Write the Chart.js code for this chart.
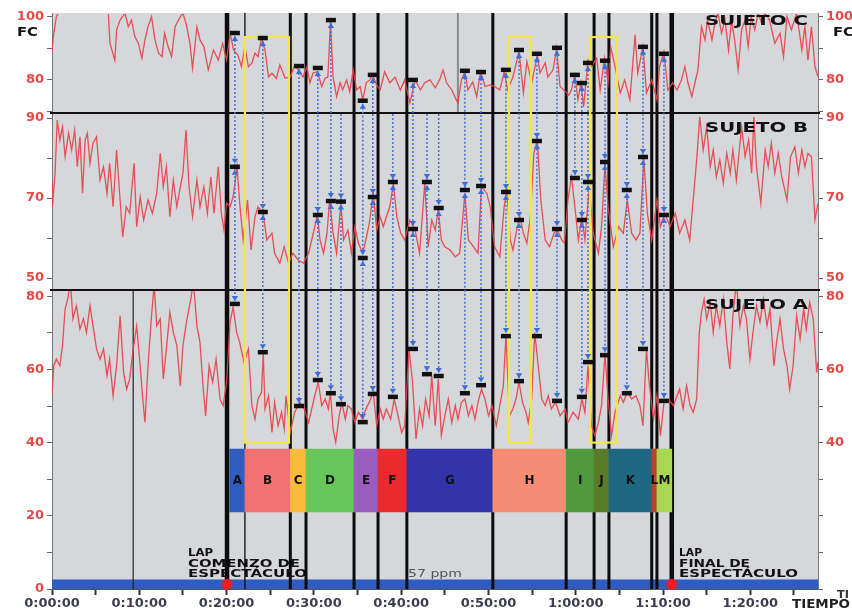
<!DOCTYPE html>
<html><head><meta charset="utf-8">
<script src="https://cdn.jsdelivr.net/npm/chart.js@4.4.1/dist/chart.umd.min.js"></script>
<style>html,body{margin:0;padding:0;background:#fff}#w{position:relative;width:852px;height:610px}</style>
</head><body><div id="w"><canvas id="c"></canvas></div>
<script>
// ---------- DATA (time in minutes, heart rate in bpm) ----------
const timeC = [0,0.15,0.5,0.9,2,3.5,5,6,6.45,6.64,7.2,7.4,7.8,8.36,8.74,9.1,9.5,9.9,10.3,10.65,11,11.4,11.8,12.2,12.6,12.9,13.3,13.7,14.1,14.7,15,15.4,15.8,16.1,16.6,16.95,17.4,17.9,18.5,19.05,19.55,20,20.4,20.8,21.3,21.7,22.1,22.5,22.9,23.25,23.6,24,24.4,24.8,25.2,25.7,26.1,26.7,27.3,27.8,28.2,28.75,29.2,29.55,29.9,30.4,30.9,31.3,31.6,31.9,32.2,32.6,33,33.3,33.75,34.1,34.5,34.9,35.3,35.6,36,36.4,36.7,37.2,37.6,38.1,38.7,39.3,39.9,40.4,41,41.6,42.2,42.7,43.3,43.9,44.4,44.8,45.2,45.8,46.2,46.5,46.9,47.3,47.65,48.2,48.65,49.1,49.6,50.2,50.7,51.3,51.8,52.2,52.8,53.5,54,54.4,54.95,55.6,55.9,56.5,56.8,57.4,57.8,58.2,58.8,59.2,59.5,59.9,60.25,60.6,60.9,61.4,61.8,62.4,62.8,63.3,63.7,64,64.5,65.1,65.6,66.2,66.8,67.1,67.7,68.1,68.7,69.3,69.6,70.1,70.55,71.1,71.6,72.1,72.5,72.85,73.3,73.65,74,74.4,74.8,75.1,75.6,75.95,76.3,76.7,77.1,77.5,77.85,78.2,78.6,79,79.4,79.75,80.1,80.5,80.9,81.3,81.7,82.2,82.8,83.4,83.8,84.2,84.7,85.3,85.9,86.25,86.6,87,87.4,87.75];
const hrC = [89,93.7,100.1,102.2,104,103,104,103,101.2,91.6,86.3,95.9,99,101.2,96.9,99,93.7,91.6,86.9,92.7,96.9,100.1,92.7,88.5,87.4,94.8,90.6,87.4,96.9,100.1,101.2,97.5,91.6,83.7,96.9,92.7,90.6,83.2,89.5,86.3,91.6,86.3,94.8,89.5,87.9,84.2,90.6,84.2,85.3,88.5,87.4,93.2,89.5,81,82.1,80.5,84.8,80.6,80.9,84.8,83.2,80.9,84.2,79.1,82.2,82.6,77.9,80.6,80.9,98.5,80.9,74.7,79.1,76.8,80,76.3,83.2,76.8,77.9,73.7,79.1,80,81.6,78.4,76.8,82.6,79.1,80.9,76.8,80,72.7,80,76.8,79.1,80,77.5,80,83.2,79.1,76.8,74.3,72.7,80,82.6,76.8,79.4,74.7,82.6,77.9,78.4,77.9,76.8,82.6,76.8,80.9,89,75.9,85.8,79.1,87.9,82.2,85.4,80.9,83.2,90.1,77.9,76.3,75.2,76.8,81.6,73.7,79.1,71.4,86.3,84.2,86.9,76.8,86.9,79.1,90.6,84.2,75.9,80,73.7,94.3,82.2,90.6,75.9,80,73.7,84.2,89,76.8,79.1,76.8,80,84.2,79.1,74.7,79.1,83.2,96.9,92.7,99,92.7,98.1,101.2,94.8,99,89.5,99,92.7,83.2,95.9,99,90.6,100.1,95.9,101.2,98,101.2,99,91.6,94.8,87.4,100.1,95.9,101.2,89.5,96.9,86.3,96.9,84.2,81];

const timeB = [0,0.05,0.35,0.6,0.9,1.2,1.5,1.9,2.25,2.6,2.9,3.2,3.5,3.8,4.05,4.35,4.7,5.1,5.5,5.9,6.3,6.6,7,7.4,7.8,8.1,8.5,8.9,9.4,9.7,10.1,10.5,11,11.5,12,12.4,12.75,13.1,13.5,13.9,14.3,14.7,15,15.35,15.7,16.1,16.6,16.95,17.4,17.8,18.2,18.55,19.05,19.4,19.7,20,20.4,20.75,21.2,21.5,21.9,22.4,22.8,23.25,23.6,24.2,24.6,25.2,25.5,26.1,26.6,27.1,27.6,28.2,28.8,29.4,29.75,30.1,30.4,30.7,31.1,31.5,31.8,32.2,32.6,33.1,33.4,33.9,34.3,34.7,35.1,35.6,35.95,36.35,36.8,37.2,37.6,37.95,38.3,38.7,39.1,39.5,39.95,40.4,41,41.6,42.1,42.45,42.7,43.1,43.5,43.9,44.25,44.6,45,45.6,46.2,46.7,47.3,47.7,48.3,48.8,49.2,49.8,50.2,50.7,51.3,51.8,52.1,52.5,52.8,53.3,53.6,54,54.4,54.8,55.2,55.6,56,56.5,57,57.5,57.9,58.4,58.7,59.1,59.5,59.9,60.3,60.7,61.05,61.55,62,62.6,62.95,63.35,63.7,64.3,64.9,65.45,65.9,66.4,66.9,67.35,67.8,68.2,68.7,69.3,69.7,70.2,70.8,71.4,71.9,72.5,73.05,73.45,73.85,74.2,74.6,75,75.4,75.75,76.1,76.5,76.9,77.3,77.7,78,78.4,79,79.4,79.8,80.15,80.4,80.7,81.2,81.7,82.05,82.4,82.8,83.2,83.6,84.2,84.6,85.1,85.5,85.9,86.25,86.6,87,87.4,87.75];
const hrB = [73.7,67.8,76.2,89.5,84.5,87.8,80.3,86.2,82,87,77.8,85.3,71.2,84.5,86.2,78.7,83.7,85.3,74.5,77.8,71.2,78.7,67.8,82,69.5,60.3,67.8,66.2,78.7,62.8,70.3,64.5,69.5,66.2,71.2,81.2,72.8,77.8,65.3,74.5,67.8,72.8,76.2,87,72.8,65.3,74.5,67.8,72.8,66.2,75.3,66.2,77.8,66.2,62,68.7,67.8,70.3,77.8,68.7,59.5,69.5,57,65.3,67.8,66.2,59.5,61.2,56.2,53.7,57.8,53.7,56.2,54.5,53.7,56.2,59.5,62.8,66,59.5,56.2,61.2,69.5,61.2,56.2,68.7,59.5,62,56.2,62.8,58.7,56.2,59.5,63.7,71.2,62,65.3,62.8,65.3,67.8,73.7,65.3,61.2,59.5,64.5,62,56.2,66.2,73.7,57.8,64.5,62,67,59.5,57.8,57,55.3,56.2,71.2,59.5,57.8,56.2,72.8,71.2,67.8,57.8,55.3,67.8,72,59.5,57,62.8,65.3,61.2,58.7,65.3,81.2,84.5,69.5,59.5,57.8,61.2,62,59.5,58.7,69.5,75.3,67.8,59.5,65.3,59.5,72.8,61.2,56.2,62.8,78.7,67.8,57.8,62.8,61.2,69.5,61.2,59.5,61.2,79.8,66.2,59.5,69.5,62.8,66.2,62.8,66.2,61.2,64.5,59.5,69.5,79.5,90.3,82,87.8,77.8,82,75.3,79.5,73.7,81.2,76.2,82,74.5,87.8,80.3,84.5,76.2,90.3,77.8,68.7,82,77.8,83.7,76.2,81.2,75.3,69.5,80.3,82.8,76.2,82,77.8,81.2,80.3,64.5,68.7];

const timeA = [0,0.2,0.5,0.9,1.2,1.5,1.8,2.1,2.4,2.8,3.2,3.6,3.95,4.35,4.7,5.1,5.5,5.9,6.3,6.6,7,7.4,7.8,8.2,8.55,8.9,9.3,9.7,10.1,10.4,10.65,11,11.4,11.7,12,12.4,12.75,13.1,13.5,13.9,14.3,14.7,15,15.4,15.9,16.2,16.6,16.95,17.3,17.6,18,18.4,18.8,19.25,19.6,20,20.4,20.75,21.15,21.5,22,22.5,22.9,23.25,23.6,24,24.2,24.4,24.8,25.2,25.5,25.9,26.3,26.6,26.8,27.3,27.8,28.4,28.9,29.4,29.75,30.1,30.5,30.9,31.3,31.65,31.9,32.2,32.5,32.9,33.2,33.6,33.9,34.3,34.7,35.1,35.6,35.95,36.35,36.8,37.2,37.6,37.95,38.3,38.8,39.2,39.55,40.05,40.4,40.9,41.3,41.7,42.1,42.45,42.8,43.2,43.5,43.9,44.25,44.6,45,45.4,45.8,46.2,46.5,46.9,47.3,47.7,48.1,48.45,48.8,49.2,49.6,50,50.4,50.9,51.3,51.7,52,52.4,52.8,53.15,53.5,53.9,54.3,54.55,54.95,55.3,55.7,56.1,56.5,56.85,57.2,57.7,58.2,58.8,59.1,59.7,60.3,60.7,61.05,61.4,61.8,62.2,62.6,62.95,63.35,63.7,64.1,64.5,65.1,65.45,65.9,66.4,66.9,67.35,67.7,68.1,68.4,68.9,69.3,69.7,70.1,70.6,71.2,71.6,71.9,72.3,72.7,73.1,73.45,73.85,74.15,74.4,74.7,75,75.4,75.75,76.1,76.5,76.9,77.3,77.65,78,78.4,78.8,79.2,79.55,79.95,80.3,80.7,81.1,81.5,81.9,82.25,82.7,83,83.4,83.8,84.2,84.5,84.9,85.3,85.7,86.1,86.4,86.8,87.2,87.6,87.75];
const hrA = [52.8,61,62.8,61,66.5,76.5,79.2,84,73.8,77.4,71,73.8,70.1,77.4,71.9,65.6,62.8,65.6,58.3,62.8,52.8,61,74.7,59.2,54.6,57.4,65.6,71.9,61,51.9,45.5,61,74.7,83,71.9,73.8,57.4,65.6,75.6,70.1,66.5,55.5,66.5,72.9,79.2,84,71.9,67.4,55.5,47.3,61,56.5,62.8,51.9,50.1,56.5,72.9,77,70.1,67.4,61.9,65.6,50.1,46.4,51.9,53.7,64.5,49.2,52.8,42.8,51,44.6,48.3,43.7,52.8,42.8,48.3,51,49.2,45.5,49.2,52.8,56.5,50.1,51.9,49.2,53.7,43.7,40.1,47.3,51,46.4,50.1,49.2,45.5,48.3,46.4,49.2,51,53.7,44.6,49.2,46.4,49.2,46.4,51.9,48.3,42.8,44.6,65.6,56.5,41,49.2,44.6,51.9,47.3,58.3,44.6,57.4,41.9,47.3,51.9,45.5,50.1,46.4,51,51.9,47.3,50.1,46.4,51,54.6,51.9,47.3,50.1,44.6,50.1,55.5,69.2,47.3,49.2,51.9,56.5,51,48.3,45.5,51.9,70.1,61,51.9,50.1,52.8,49.2,51,47.3,49.2,45.5,48.3,46.4,51.9,48.3,61,44.6,41.9,45.5,50.1,64.2,51.9,41.9,48.3,52.8,51,53.7,51.9,52.8,50.1,44.6,65.6,56.5,46.4,52.8,41.9,51,51.9,50.1,52.8,54.6,49.2,55.5,50.1,48.3,51.9,70.1,75.6,79.2,73.8,78.3,70.1,77.4,71.9,79.2,67.4,60.1,74.7,84,71.9,77.4,73.8,62.8,70.1,77.4,72.9,79.2,71.9,76.5,61,67.4,73.8,65.6,61,54.6,61,74.7,68.3,76.5,71,78.3,73.8,59.2,62];

// peaks marked on each subject (null = no mark)
const peakTime = [20.95,24.15,28.3,30.45,31.95,33.1,35.6,36.75,39.05,41.35,42.95,44.3,47.3,49.15,52,53.5,55.55,57.85,59.9,60.7,61.4,63.35,65.85,67.7,70.1];
const peakC = [94.9,93.3,84.4,83.8,99,null,73.4,81.6,null,80,null,null,82.9,82.5,83.2,89.5,88.3,90.2,81.6,79,85.4,86.1,null,90.5,88.3];
const peakB = [77.8,66.5,null,65.75,69.25,69.1,55,70.25,74,62.25,74,67.5,72,73,71.5,64.5,84.25,62.25,75,64.5,74,79,72,80.25,65.75];
const peakA = [77.9,64.7,50,57.1,53.5,50.5,45.6,53.3,52.5,65.6,58.7,58.2,53.5,55.7,69.1,56.8,69.1,51.4,null,52.5,62,63.9,53.5,65.6,51.4];

// show segments
const segLabels = ['A','B','C','D','E','F','G','H','I','J','K','L','M'];
const segStart  = [20.35,22.1,27.3,29.1,34.6,37.35,40.65,50.5,58.9,62.1,63.8,68.7,69.3];
const segEnd    = [22.1,27.3,29.1,34.6,37.35,40.65,50.5,58.9,62.1,63.8,68.7,69.3,71.0];
const segColors = ['#2f5cbf','#f07272','#f8bb3c','#66c65a','#9a5cbf','#ea2a2c','#3434aa','#f58c74','#4f9a3c','#5b7b2a','#1f6883','#b8432c','#a9d752'];

// laps
const lapTimes = [20.05, 71.0];
const lapOnlyA = [9.3];
const lapOnlyC = [46.5];

// highlighted windows
const focusStart = [22.1, 52.35, 61.65];
const focusEnd   = [27.15, 54.87, 64.72];

// ticks
const ticksC = [70,80,90,100], labelsC = [80,100];
const ticksB = [50,60,70,80,90], labelsB = [50,70,90];
const ticksA = [0,10,20,30,40,50,60,70,80], labelsA = [0,20,40,60,80], labelsARight = [40,60,80];
const xTickLabels = ['0:00:00','0:10:00','0:20:00','0:30:00','0:40:00','0:50:00','1:00:00','1:10:00','1:20:00'];

// ---------- CHART ----------
const FONT = "'DejaVu Sans', sans-serif";
const RED = '#e5484a';
const xy = (t, v) => t.map((x, i) => ({x, y: v[i]}));
const marks = vals => peakTime.map((t, i) => vals[i] == null ? null : {x: t, y: vals[i]}).filter(Boolean);

function yAxis(pos, stackWeight, weight, min, max, ticks, labels) {
  return {
    type: 'linear', position: pos, stack: pos, stackWeight, weight, min, max, offset: false,
    afterFit(s) { s.width = pos === 'left' ? 52 : 34; },
    afterBuildTicks(s) { s.ticks = ticks.map(v => ({value: v})); },
    grid: {drawOnChartArea: false, drawTicks: true, tickLength: 5, tickColor: '#666', offset: false},
    border: {display: true, color: '#777', width: 1},
    ticks: {autoSkip: false, padding: 3, color: RED, font: {family: FONT, size: 13, weight: 'bold'},
      callback: v => labels.includes(v) ? String(v) : ''}
  };
}

const lineDS = (t, v, axis) => ({type: 'line', data: xy(t, v), yAxisID: axis, panel: axis,
  borderColor: 'rgba(232,66,74,0.92)', borderWidth: 1.3, pointRadius: 0, tension: 0, order: 3, clip: false});
const markDS = (vals, axis) => ({type: 'line', data: marks(vals), yAxisID: axis, showLine: false,
  pointStyle: 'line', pointRadius: 5, pointBorderWidth: 4.5, pointBorderColor: '#111', pointBackgroundColor: '#111', order: 0, clip: false});

function wide(ctx, txt, x, y, font, color, width, align) {
  ctx.save();
  ctx.font = font;
  const w = ctx.measureText(txt).width;
  const sx = width ? width / w : 1;
  ctx.translate(x, y); ctx.scale(sx, 1);
  ctx.fillStyle = color; ctx.textBaseline = 'middle'; ctx.textAlign = align || 'left';
  ctx.fillText(txt, 0, 0);
  ctx.restore();
}

const deco = {
  id: 'deco',
  beforeDraw(chart) {
    const {ctx, chartArea: a} = chart;
    ctx.save();
    ctx.fillStyle = '#fff'; ctx.fillRect(0, 0, chart.width, chart.height);
    ctx.fillStyle = '#d5d7db'; ctx.fillRect(a.left, a.top, a.right - a.left, a.bottom - a.top);
    ctx.restore();
  },
  beforeDatasetsDraw(chart) {
    const {ctx, chartArea: a, scales: s} = chart;
    const X = v => s.x.getPixelForValue(v);
    ctx.save();
    // lap track
    ctx.fillStyle = '#2e5cc0';
    const yt = s.yA.getPixelForValue(2.6);
    ctx.fillRect(a.left, yt, a.right - a.left, a.bottom - yt);
    // lap texts
    const bf = `bold 10px ${FONT}`;
    wide(ctx, 'LAP', 188, 553, bf, '#111', 25);
    wide(ctx, 'COMENZO DE', 188, 564, bf, '#111', 112);
    wide(ctx, 'ESPECTÁCULO', 188, 574, bf, '#111', 119);
    wide(ctx, 'LAP', 679, 553, bf, '#111', 23);
    wide(ctx, 'FINAL DE', 679, 564, bf, '#111', 71);
    wide(ctx, 'ESPECTÁCULO', 679, 574, bf, '#111', 119);
    wide(ctx, '57 ppm', 408, 574, `11px ${FONT}`, '#555', 54);
    // partial laps
    ctx.strokeStyle = '#222'; ctx.lineWidth = 1.2;
    lapOnlyA.forEach(t => { ctx.beginPath(); ctx.moveTo(X(t), s.yA.top); ctx.lineTo(X(t), a.bottom); ctx.stroke(); });
    ctx.strokeStyle = '#8a8a8a'; ctx.lineWidth = 2;
    lapOnlyC.forEach(t => { ctx.beginPath(); ctx.moveTo(X(t), s.yC.top); ctx.lineTo(X(t), s.yC.bottom); ctx.stroke(); });
    // segment boundaries
    ctx.strokeStyle = '#0c0c0c';
    segStart.slice(1).forEach((t, i) => {
      ctx.lineWidth = i === 0 ? 1.3 : 3;
      ctx.beginPath(); ctx.moveTo(X(t), a.top); ctx.lineTo(X(t), a.bottom); ctx.stroke();
    });
    ctx.lineWidth = 4.5;
    lapTimes.forEach(t => { ctx.beginPath(); ctx.moveTo(X(t), a.top); ctx.lineTo(X(t), a.bottom); ctx.stroke(); });
    // panel separators
    ctx.lineWidth = 2; ctx.strokeStyle = '#111';
    [s.yB.top, s.yA.top].forEach(y => { ctx.beginPath(); ctx.moveTo(a.left - 2, y); ctx.lineTo(a.right + 2, y); ctx.stroke(); });
    ctx.restore();
  },
  beforeDatasetDraw(chart, args) {
    const ds = chart.data.datasets[args.index];
    if (ds.panel) {
      const s = chart.scales[ds.panel], a = chart.chartArea, ctx = chart.ctx;
      ctx.save(); ctx.beginPath(); ctx.rect(a.left, s.top + 1, a.right - a.left, s.bottom - s.top - 1); ctx.clip();
    }
  },
  afterDatasetDraw(chart, args) {
    const ds = chart.data.datasets[args.index];
    const {ctx, scales: s} = chart;
    if (ds.panel) ctx.restore();
    if (ds.type !== 'bar') return;
    const X = v => s.x.getPixelForValue(v);
    // letters
    args.meta.data.forEach((el, i) => {
      const p = el.getProps(['x', 'base', 'y'], true);
      wide(ctx, segLabels[i], (p.x + p.base) / 2, p.y, `bold 12px ${FONT}`, '#111', null, 'center');
    });
    // yellow windows
    ctx.save();
    ctx.strokeStyle = '#f3e93e'; ctx.lineWidth = 2.2;
    const yTop = s.yC.getPixelForValue(93.6), yBot = s.yA.getPixelForValue(40);
    focusStart.forEach((t, i) => ctx.strokeRect(X(t), yTop, X(focusEnd[i]) - X(t), yBot - yTop));
    // dotted connectors
    const tri = (x, y, dir) => { ctx.beginPath(); ctx.moveTo(x, y); ctx.lineTo(x - 3.2, y + dir * 5); ctx.lineTo(x + 3.2, y + dir * 5); ctx.closePath(); ctx.fill(); };
    ctx.fillStyle = '#3a6ed8';
    peakTime.forEach((t, i) => {
      const x = X(t);
      const pc = peakC[i] == null ? null : s.yC.getPixelForValue(peakC[i]);
      const pb = peakB[i] == null ? null : s.yB.getPixelForValue(peakB[i]);
      const pa = peakA[i] == null ? null : s.yA.getPixelForValue(peakA[i]);
      const top = pc != null ? pc + 3 : s.yB.top + 1;
      const bot = pa != null ? pa - 3 : pb - 3;
      ctx.save();
      ctx.strokeStyle = '#3f72da'; ctx.lineWidth = 1.5; ctx.setLineDash([2, 2]);
      ctx.beginPath(); ctx.moveTo(x, top); ctx.lineTo(x, bot); ctx.stroke();
      ctx.restore();
      if (pc != null) tri(x, pc + 3, 1);
      if (pb != null) { tri(x, pb - 3, -1); if (pa != null) tri(x, pb + 3, 1); }
      if (pa != null) tri(x, pa - 3, -1);
    });
    ctx.restore();
  },
  afterDraw(chart) {
    const ctx = chart.ctx;
    const b14 = `bold 14px ${FONT}`;
    wide(ctx, 'SUJETO C', 705, 21, b14, '#111', 103);
    wide(ctx, 'SUJETO B', 705, 128, b14, '#111', 103);
    wide(ctx, 'SUJETO A', 705, 305, b14, '#111', 103);
    wide(ctx, 'FC', 17, 33, `bold 12px ${FONT}`, '#111', 21);
    wide(ctx, 'FC', 833, 33, `bold 12px ${FONT}`, '#111', 21);
    wide(ctx, 'TI', 837, 595, `bold 11px ${FONT}`, '#333', 12);
    wide(ctx, 'TIEMPO', 792, 605, `bold 12px ${FONT}`, '#222', 58);
  }
};

new Chart(document.getElementById('c'), {
  type: 'line',
  data: {
    datasets: [
      lineDS(timeC, hrC, 'yC'),
      lineDS(timeB, hrB, 'yB'),
      lineDS(timeA, hrA, 'yA'),
      {type: 'bar', indexAxis: 'y', xAxisID: 'x', yAxisID: 'yA', grouped: false,
       data: segLabels.map((l, i) => ({x: [segStart[i], segEnd[i]], y: 29.65})),
       backgroundColor: segColors, borderWidth: 0, barThickness: 63, order: 2},
      markDS(peakC, 'yC'), markDS(peakB, 'yB'), markDS(peakA, 'yA'),
      {type: 'line', data: lapTimes.map(t => ({x: t, y: 1.3})), yAxisID: 'yA', showLine: false,
       pointRadius: 5.5, pointBackgroundColor: '#ee1c24', pointBorderWidth: 0, order: 0, clip: false}
    ]
  },
  options: {
    responsive: true, maintainAspectRatio: false, animation: false,
    layout: {padding: {top: 13, left: 0, right: 0, bottom: 0}},
    plugins: {legend: {display: false}, tooltip: {enabled: false}, title: {display: false}},
    scales: {
      x: {type: 'linear', min: 0, max: 87.75, offset: false,
        afterFit(s) { s.height = 21; },
        grid: {drawOnChartArea: false, tickLength: 6, tickWidth: 2, tickColor: '#333', offset: false},
        border: {color: '#555', width: 1},
        ticks: {stepSize: 5, includeBounds: false, autoSkip: false, maxRotation: 0, minRotation: 0, padding: 1,
          color: '#3c3c50', font: {family: FONT, size: 13, weight: 'bold'},
          callback: v => v % 10 === 0 ? xTickLabels[v / 10] : ''}},
      yC: yAxis('left', 100, 3, 69.5, 101.25, ticksC, labelsC),
      yB: yAxis('left', 177, 2, 47, 91.25, ticksB, labelsB),
      yA: yAxis('left', 299, 1, 0, 81.7, ticksA, labelsA),
      rC: yAxis('right', 100, 1, 69.5, 101.25, ticksC, labelsC),
      rB: yAxis('right', 177, 2, 47, 91.25, ticksB, labelsB),
      rA: yAxis('right', 299, 3, 0, 81.7, ticksA, labelsARight)
    }
  },
  plugins: [deco]
});
</script>
</body></html>
